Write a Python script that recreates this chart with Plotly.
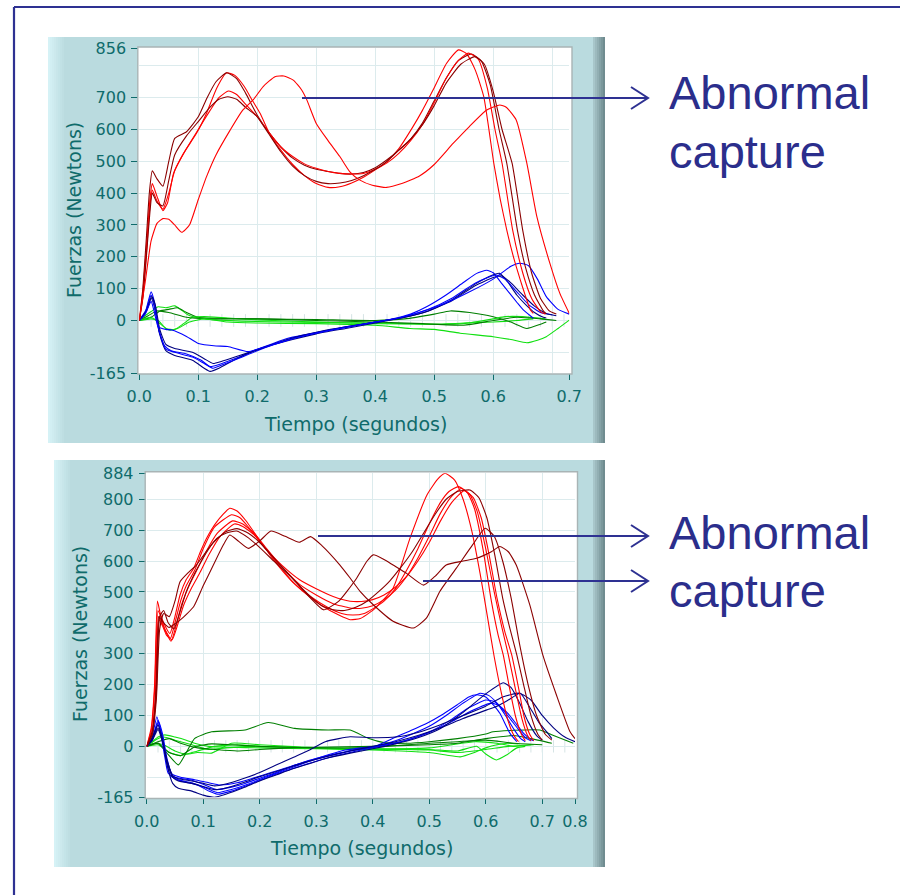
import plotly.graph_objects as go

# ---------------------------------------------------------------------------
# Upper recording: five trials, force components vs time
# (fz = vertical, fy = antero-posterior, fx = medio-lateral)
# ---------------------------------------------------------------------------
top1_fz_t = [0, 0.006, 0.012, 0.018, 0.022, 0.03, 0.04, 0.048, 0.058, 0.075, 0.097, 0.114, 0.131, 0.148, 0.162, 0.178, 0.192, 0.205, 0.22, 0.24, 0.26, 0.28, 0.30, 0.32, 0.34, 0.36, 0.38, 0.40, 0.42, 0.44, 0.464, 0.48, 0.498, 0.521, 0.541, 0.555, 0.57, 0.584, 0.601, 0.612, 0.623, 0.635, 0.646, 0.655, 0.663, 0.668]
top1_fz = [0, 90, 230, 380, 430, 390, 345, 370, 462, 525, 588, 651, 729, 778, 770, 735, 690, 650, 590, 535, 490, 455, 430, 418, 420, 432, 450, 473, 500, 540, 609, 660, 724, 808, 850, 838, 785, 703, 494, 380, 284, 195, 127, 75, 33, 22]
top1_fy_t = [0, 0.01, 0.02, 0.026, 0.033, 0.043, 0.054, 0.08, 0.105, 0.12, 0.14, 0.17, 0.196, 0.227, 0.252, 0.28, 0.308, 0.35, 0.388, 0.43, 0.46, 0.487, 0.52, 0.55, 0.572, 0.589, 0.6, 0.615, 0.628, 0.641, 0.651, 0.668]
top1_fy = [0, 25, 90, 55, -30, -80, -95, -105, -125, -145, -135, -114, -93, -72, -56, -45, -35, -20, -9, 5, 20, 43, 80, 120, 148, 158, 150, 115, 85, 55, 33, 7]
top1_fx_t = [0, 0.01, 0.02, 0.032, 0.045, 0.06, 0.072, 0.083, 0.1, 0.13, 0.2, 0.3, 0.4, 0.45, 0.5, 0.55, 0.6, 0.64, 0.668]
top1_fx = [0, 15, 28, 43, 40, 46, 32, 17, 8, 2, -3, -6, -8, -10, -12, -8, -5, 0, 5]

top2_fz_t = [0, 0.006, 0.012, 0.017, 0.022, 0.03, 0.04, 0.05, 0.06, 0.08, 0.1, 0.115, 0.13, 0.148, 0.165, 0.18, 0.2, 0.22, 0.24, 0.26, 0.28, 0.30, 0.32, 0.34, 0.36, 0.38, 0.40, 0.42, 0.44, 0.46, 0.48, 0.50, 0.52, 0.54, 0.563, 0.58, 0.595, 0.61, 0.623, 0.641, 0.655, 0.67, 0.685, 0.69]
top2_fz = [0, 100, 260, 400, 470, 445, 422, 500, 572, 593, 640, 700, 750, 778, 760, 715, 645, 590, 545, 510, 488, 475, 468, 462, 460, 465, 480, 505, 535, 570, 620, 690, 760, 815, 837, 815, 740, 600, 494, 284, 165, 80, 30, 20]
top2_fy_t = [0, 0.012, 0.02, 0.026, 0.034, 0.045, 0.06, 0.09, 0.11, 0.12, 0.135, 0.16, 0.19, 0.22, 0.26, 0.3, 0.35, 0.4, 0.45, 0.49, 0.53, 0.57, 0.595, 0.611, 0.625, 0.64, 0.655, 0.67, 0.685, 0.69]
top2_fy = [0, 30, 70, 40, -40, -95, -110, -125, -150, -160, -150, -125, -100, -80, -60, -42, -25, -8, 10, 30, 65, 115, 140, 148, 120, 80, 50, 25, 10, 8]
top2_fx_t = [0, 0.02, 0.035, 0.05, 0.065, 0.08, 0.1, 0.15, 0.2, 0.3, 0.4, 0.45, 0.5, 0.527, 0.56, 0.6, 0.63, 0.657, 0.68, 0.69]
top2_fx = [0, 10, 30, 35, 40, 25, 10, 6, 5, 3, 0, 5, 20, 30, 25, 12, -5, -25, -12, -5]

top3_fz_t = [0, 0.006, 0.012, 0.018, 0.022, 0.03, 0.04, 0.05, 0.06, 0.08, 0.1, 0.12, 0.135, 0.151, 0.165, 0.18, 0.2, 0.22, 0.24, 0.26, 0.28, 0.30, 0.32, 0.34, 0.36, 0.38, 0.40, 0.42, 0.44, 0.46, 0.48, 0.50, 0.52, 0.54, 0.558, 0.575, 0.59, 0.603, 0.615, 0.633, 0.65, 0.665, 0.68, 0.688]
top3_fz = [0, 80, 210, 360, 410, 375, 350, 400, 470, 540, 600, 660, 700, 721, 710, 680, 640, 590, 545, 515, 492, 478, 468, 462, 460, 462, 475, 495, 525, 565, 615, 685, 760, 815, 840, 820, 730, 600, 494, 284, 150, 70, 28, 20]
top3_fy_t = [0, 0.012, 0.02, 0.026, 0.034, 0.045, 0.06, 0.09, 0.11, 0.125, 0.14, 0.17, 0.2, 0.23, 0.27, 0.31, 0.35, 0.4, 0.45, 0.49, 0.53, 0.57, 0.605, 0.62, 0.64, 0.66, 0.68, 0.70]
top3_fy = [0, 35, 80, 45, -35, -90, -100, -115, -135, -150, -140, -118, -95, -75, -52, -35, -22, -5, 12, 35, 70, 118, 143, 130, 90, 50, 25, 18]
top3_fx_t = [0, 0.02, 0.032, 0.045, 0.06, 0.075, 0.09, 0.11, 0.15, 0.2, 0.3, 0.4, 0.5, 0.55, 0.6, 0.62, 0.65, 0.688]
top3_fx = [0, 5, 0, -25, -28, -10, 10, 12, 8, 2, -5, -10, -12, -10, 5, 12, 12, 5]

top4_fz_t = [0, 0.006, 0.012, 0.018, 0.022, 0.03, 0.04, 0.05, 0.06, 0.08, 0.1, 0.12, 0.135, 0.15, 0.165, 0.18, 0.2, 0.22, 0.24, 0.26, 0.28, 0.30, 0.32, 0.34, 0.36, 0.38, 0.40, 0.42, 0.44, 0.46, 0.48, 0.50, 0.52, 0.545, 0.569, 0.585, 0.6, 0.615, 0.632, 0.65, 0.665, 0.68, 0.695, 0.707]
top4_fz = [0, 70, 200, 340, 400, 370, 360, 440, 520, 580, 625, 670, 695, 703, 695, 670, 640, 585, 530, 485, 455, 437, 430, 432, 440, 455, 475, 500, 535, 570, 615, 675, 745, 805, 829, 805, 720, 600, 494, 284, 150, 70, 30, 20]
top4_fy_t = [0, 0.012, 0.021, 0.027, 0.035, 0.045, 0.06, 0.09, 0.11, 0.125, 0.14, 0.17, 0.2, 0.23, 0.27, 0.31, 0.35, 0.4, 0.45, 0.49, 0.53, 0.57, 0.6, 0.615, 0.63, 0.65, 0.67, 0.69, 0.707]
top4_fy = [0, 30, 75, 50, -30, -75, -88, -100, -120, -135, -128, -110, -92, -72, -50, -33, -20, -5, 10, 30, 62, 110, 135, 140, 118, 80, 45, 22, 15]
top4_fx_t = [0, 0.015, 0.03, 0.05, 0.08, 0.12, 0.2, 0.3, 0.4, 0.48, 0.55, 0.6, 0.64, 0.68, 0.707]
top4_fx = [0, 15, 30, 25, 10, 5, 5, 0, -5, -10, -15, 0, 10, 5, 0]

top5_fz_t = [0, 0.01, 0.02, 0.03, 0.04, 0.05, 0.06, 0.072, 0.085, 0.1, 0.114, 0.13, 0.154, 0.175, 0.193, 0.21, 0.23, 0.245, 0.261, 0.275, 0.284, 0.30, 0.32, 0.34, 0.357, 0.374, 0.395, 0.419, 0.445, 0.475, 0.50, 0.532, 0.56, 0.589, 0.611, 0.622, 0.639, 0.657, 0.674, 0.696, 0.713, 0.729]
top5_fz = [0, 120, 250, 305, 320, 318, 300, 277, 300, 380, 452, 520, 598, 660, 693, 735, 766, 768, 755, 725, 693, 619, 565, 515, 467, 441, 425, 418, 430, 454, 490, 556, 610, 661, 677, 670, 630, 494, 326, 180, 85, 22]
top5_fy_t = [0, 0.01, 0.02, 0.025, 0.032, 0.045, 0.055, 0.08, 0.1, 0.13, 0.15, 0.184, 0.21, 0.24, 0.28, 0.32, 0.36, 0.4, 0.44, 0.48, 0.52, 0.56, 0.6, 0.63, 0.645, 0.66, 0.675, 0.69, 0.71, 0.729]
top5_fy = [0, 20, 60, 30, -20, -28, -30, -50, -72, -80, -82, -98, -85, -68, -48, -32, -18, -5, 8, 28, 55, 90, 130, 170, 180, 172, 130, 75, 35, 20]
top5_fx_t = [0, 0.02, 0.035, 0.05, 0.065, 0.085, 0.11, 0.15, 0.2, 0.3, 0.4, 0.459, 0.5, 0.544, 0.6, 0.63, 0.657, 0.675, 0.69, 0.71, 0.729]
top5_fx = [0, 10, -10, -30, -25, -5, 5, -5, -8, -10, -15, -25, -28, -40, -51, -60, -70, -62, -51, -25, 1]

# ---------------------------------------------------------------------------
# Lower recording: seven trials
# ---------------------------------------------------------------------------
bot1_fz_t = [0, 0.008, 0.014, 0.019, 0.024, 0.03, 0.041, 0.05, 0.059, 0.07, 0.083, 0.095, 0.106, 0.124, 0.147, 0.16, 0.175, 0.195, 0.224, 0.254, 0.283, 0.31, 0.34, 0.36, 0.378, 0.40, 0.436, 0.466, 0.496, 0.515, 0.528, 0.545, 0.56, 0.575, 0.59, 0.603, 0.615, 0.628, 0.64, 0.65, 0.658]
bot1_fz = [0, 60, 200, 470, 430, 400, 365, 420, 490, 540, 576, 630, 674, 727, 771, 762, 732, 680, 605, 540, 492, 455, 425, 410, 414, 440, 512, 674, 814, 865, 884, 862, 800, 700, 560, 420, 290, 170, 80, 35, 15]
bot1_fy_t = [0, 0.008, 0.018, 0.025, 0.032, 0.038, 0.05, 0.08, 0.103, 0.124, 0.15, 0.174, 0.2, 0.233, 0.26, 0.292, 0.32, 0.351, 0.38, 0.404, 0.436, 0.466, 0.496, 0.525, 0.55, 0.57, 0.584, 0.6, 0.613, 0.625, 0.643, 0.655]
bot1_fy = [0, 20, 96, 40, -34, -87, -100, -110, -125, -140, -132, -120, -103, -82, -62, -44, -28, -12, -5, 0, 26, 50, 75, 105, 135, 160, 167, 160, 135, 107, 42, 15]
bot1_fx_t = [0, 0.01, 0.02, 0.032, 0.05, 0.07, 0.085, 0.11, 0.15, 0.2, 0.3, 0.4, 0.45, 0.5, 0.53, 0.555, 0.58, 0.6, 0.62, 0.64, 0.658]
bot1_fx = [0, 15, 30, 37, 30, 20, 10, 0, -3, -5, -8, -12, -15, -20, -28, -34, -20, -5, 5, 10, 8]

bot2_fz_t = [0, 0.008, 0.014, 0.02, 0.025, 0.032, 0.042, 0.05, 0.06, 0.07, 0.085, 0.1, 0.12, 0.15, 0.165, 0.18, 0.2, 0.23, 0.26, 0.29, 0.32, 0.345, 0.365, 0.385, 0.40, 0.42, 0.44, 0.46, 0.48, 0.50, 0.52, 0.535, 0.552, 0.568, 0.58, 0.595, 0.61, 0.622, 0.631, 0.642, 0.653, 0.663, 0.67]
bot2_fz = [0, 50, 180, 440, 420, 380, 350, 400, 470, 520, 570, 640, 710, 750, 740, 710, 665, 595, 530, 485, 450, 430, 425, 430, 445, 470, 510, 570, 640, 720, 790, 825, 841, 820, 770, 640, 470, 360, 296, 190, 95, 40, 18]
bot2_fy_t = [0, 0.01, 0.02, 0.027, 0.034, 0.042, 0.055, 0.08, 0.105, 0.125, 0.15, 0.18, 0.21, 0.24, 0.27, 0.3, 0.33, 0.36, 0.4, 0.44, 0.47, 0.5, 0.53, 0.56, 0.59, 0.605, 0.62, 0.635, 0.65, 0.662, 0.67]
bot2_fy = [0, 25, 85, 35, -40, -95, -108, -118, -135, -150, -140, -122, -100, -80, -60, -42, -28, -15, -3, 18, 40, 65, 100, 140, 172, 165, 140, 100, 55, 25, 15]
bot2_fx_t = [0, 0.015, 0.03, 0.05, 0.07, 0.09, 0.115, 0.15, 0.2, 0.25, 0.3, 0.4, 0.5, 0.55, 0.584, 0.6, 0.619, 0.637, 0.655, 0.67]
bot2_fx = [0, 10, 5, -15, -25, -20, -22, 10, 5, 0, -5, -8, -10, -15, 0, -25, -44, -28, -5, 0]

bot3_fz_t = [0, 0.009, 0.015, 0.021, 0.027, 0.034, 0.043, 0.052, 0.062, 0.075, 0.09, 0.105, 0.125, 0.152, 0.17, 0.19, 0.21, 0.24, 0.27, 0.3, 0.33, 0.36, 0.38, 0.40, 0.42, 0.44, 0.46, 0.48, 0.50, 0.52, 0.54, 0.557, 0.572, 0.585, 0.6, 0.615, 0.628, 0.64, 0.652, 0.664, 0.674, 0.68]
bot3_fz = [0, 40, 150, 420, 400, 370, 340, 390, 460, 520, 575, 630, 690, 730, 720, 690, 645, 580, 525, 490, 462, 448, 447, 455, 475, 505, 550, 610, 680, 755, 810, 835, 815, 760, 640, 500, 390, 296, 190, 90, 35, 18]
bot3_fy_t = [0, 0.01, 0.02, 0.028, 0.035, 0.045, 0.06, 0.085, 0.11, 0.13, 0.16, 0.19, 0.22, 0.25, 0.28, 0.31, 0.34, 0.37, 0.41, 0.45, 0.48, 0.51, 0.54, 0.57, 0.6, 0.615, 0.63, 0.645, 0.66, 0.672, 0.68]
bot3_fy = [0, 20, 70, 30, -45, -90, -100, -108, -118, -125, -118, -102, -85, -68, -50, -35, -22, -10, 2, 15, 32, 55, 88, 125, 150, 145, 120, 85, 50, 25, 18]
bot3_fx_t = [0, 0.015, 0.03, 0.05, 0.08, 0.11, 0.14, 0.18, 0.25, 0.3, 0.4, 0.5, 0.54, 0.58, 0.62, 0.65, 0.68]
bot3_fx = [0, 20, 30, 20, 5, -10, -5, 0, -3, -6, -10, -5, 5, 15, 10, 0, 5]

bot4_fz_t = [0, 0.009, 0.016, 0.022, 0.028, 0.035, 0.045, 0.055, 0.065, 0.08, 0.095, 0.11, 0.13, 0.155, 0.17, 0.19, 0.21, 0.24, 0.27, 0.3, 0.33, 0.36, 0.38, 0.40, 0.42, 0.44, 0.46, 0.48, 0.50, 0.52, 0.54, 0.562, 0.578, 0.592, 0.606, 0.62, 0.634, 0.646, 0.658, 0.668, 0.678, 0.685]
bot4_fz = [0, 40, 160, 410, 390, 360, 345, 395, 455, 515, 565, 620, 680, 720, 712, 685, 640, 585, 540, 510, 485, 470, 469, 475, 490, 515, 550, 600, 660, 730, 790, 828, 805, 740, 620, 480, 370, 296, 190, 95, 38, 18]
bot4_fy_t = [0, 0.01, 0.021, 0.028, 0.036, 0.046, 0.06, 0.09, 0.11, 0.125, 0.15, 0.18, 0.21, 0.24, 0.27, 0.3, 0.34, 0.38, 0.42, 0.46, 0.5, 0.54, 0.575, 0.61, 0.625, 0.64, 0.655, 0.668, 0.68, 0.685]
bot4_fy = [0, 25, 80, 40, -40, -100, -112, -125, -145, -155, -145, -125, -103, -83, -65, -48, -28, -12, 3, 20, 45, 80, 115, 140, 130, 105, 70, 40, 22, 18]
bot4_fx_t = [0, 0.02, 0.04, 0.06, 0.09, 0.12, 0.16, 0.2, 0.3, 0.4, 0.5, 0.55, 0.6, 0.64, 0.685]
bot4_fx = [0, 5, -20, -30, -15, 0, 5, 0, -5, -8, -12, -20, -10, 0, 5]

bot5_fz_t = [0, 0.01, 0.017, 0.023, 0.03, 0.038, 0.048, 0.058, 0.07, 0.085, 0.1, 0.118, 0.14, 0.16, 0.18, 0.2, 0.23, 0.26, 0.29, 0.31, 0.33, 0.35, 0.37, 0.39, 0.41, 0.43, 0.45, 0.47, 0.49, 0.51, 0.53, 0.55, 0.572, 0.588, 0.602, 0.616, 0.63, 0.643, 0.655, 0.667, 0.68, 0.692, 0.70]
bot5_fz = [0, 50, 170, 420, 440, 400, 380, 430, 500, 560, 610, 660, 695, 705, 690, 660, 600, 540, 485, 455, 442, 440, 450, 470, 500, 535, 580, 630, 690, 750, 800, 825, 830, 805, 740, 620, 480, 380, 296, 200, 100, 40, 20]
bot5_fy_t = [0, 0.01, 0.02, 0.028, 0.036, 0.046, 0.056, 0.08, 0.1, 0.12, 0.14, 0.17, 0.2, 0.23, 0.26, 0.29, 0.32, 0.36, 0.4, 0.44, 0.48, 0.52, 0.56, 0.6, 0.631, 0.645, 0.66, 0.675, 0.69, 0.70]
bot5_fy = [0, 30, 70, 20, -60, -120, -136, -145, -158, -165, -155, -135, -112, -92, -72, -55, -38, -22, -8, 8, 28, 58, 110, 170, 206, 190, 140, 80, 35, 20]
bot5_fx_t = [0, 0.02, 0.04, 0.06, 0.085, 0.115, 0.15, 0.2, 0.3, 0.4, 0.5, 0.55, 0.6, 0.65, 0.7]
bot5_fx = [0, 10, -20, -30, -1, 8, 5, 0, -5, -3, 10, 15, 20, 10, 5]

bot6_fz_t = [0, 0.01, 0.017, 0.022, 0.03, 0.04, 0.047, 0.06, 0.083, 0.1, 0.118, 0.135, 0.147, 0.162, 0.18, 0.2, 0.22, 0.245, 0.27, 0.29, 0.31, 0.342, 0.36, 0.378, 0.40, 0.436, 0.472, 0.495, 0.519, 0.548, 0.577, 0.599, 0.615, 0.63, 0.645, 0.66, 0.675, 0.69, 0.705, 0.717]
bot6_fz = [0, 40, 200, 420, 400, 385, 393, 410, 452, 520, 587, 650, 684, 665, 641, 665, 697, 680, 661, 679, 650, 587, 545, 501, 460, 405, 383, 415, 502, 577, 653, 706, 680, 600, 480, 330, 200, 100, 40, 20]
bot6_fy_t = [0, 0.01, 0.02, 0.028, 0.036, 0.046, 0.056, 0.08, 0.1, 0.12, 0.14, 0.17, 0.2, 0.24, 0.28, 0.32, 0.36, 0.4, 0.44, 0.48, 0.52, 0.56, 0.602, 0.62, 0.64, 0.661, 0.68, 0.695, 0.708, 0.717]
bot6_fy = [0, 25, 60, 20, -50, -100, -112, -120, -130, -140, -135, -118, -98, -75, -52, -32, -15, 0, 15, 35, 60, 90, 118, 130, 150, 172, 120, 75, 47, 25]
bot6_fx_t = [0, 0.02, 0.04, 0.06, 0.09, 0.12, 0.16, 0.2, 0.25, 0.3, 0.4, 0.5, 0.55, 0.6, 0.65, 0.68, 0.717]
bot6_fx = [0, 15, 25, 10, -5, -10, -15, -10, -5, -3, 0, 5, 10, 25, 35, 25, 10]

bot7_fz_t = [0, 0.01, 0.017, 0.023, 0.03, 0.04, 0.05, 0.059, 0.075, 0.088, 0.105, 0.124, 0.14, 0.159, 0.18, 0.195, 0.225, 0.26, 0.29, 0.313, 0.34, 0.37, 0.39, 0.401, 0.42, 0.436, 0.46, 0.49, 0.51, 0.53, 0.56, 0.584, 0.61, 0.625, 0.64, 0.654, 0.678, 0.701, 0.725, 0.749, 0.758]
bot7_fz = [0, 40, 150, 380, 430, 420, 470, 533, 565, 587, 630, 673, 690, 697, 675, 652, 600, 540, 480, 442, 470, 540, 600, 620, 605, 587, 560, 522, 550, 587, 600, 609, 630, 647, 630, 587, 458, 296, 167, 48, 25]
bot7_fy_t = [0, 0.01, 0.02, 0.028, 0.036, 0.046, 0.056, 0.08, 0.1, 0.12, 0.14, 0.17, 0.2, 0.23, 0.26, 0.29, 0.316, 0.34, 0.36, 0.4, 0.44, 0.48, 0.52, 0.56, 0.6, 0.63, 0.66, 0.68, 0.70, 0.72, 0.74, 0.758]
bot7_fy = [0, 20, 55, 15, -45, -95, -105, -112, -120, -128, -122, -105, -85, -60, -35, -10, 15, 25, 31, 28, 30, 45, 70, 100, 130, 160, 172, 150, 100, 60, 30, 15]
bot7_fx_t = [0, 0.02, 0.035, 0.056, 0.07, 0.085, 0.115, 0.174, 0.215, 0.262, 0.321, 0.36, 0.392, 0.42, 0.46, 0.5, 0.55, 0.6, 0.613, 0.65, 0.696, 0.72, 0.755]
bot7_fx = [0, 10, -20, -60, -20, 26, 47, 53, 77, 58, 53, 53, 26, 12, 10, 15, 25, 40, 47, 52, 53, 35, 10]

# Axis scales and tick labels (the last tick marks the end of each time axis)
top_x_range = [0, 0.729]
top_y_range = [-165, 856]
top_x_ticks = [0, 0.1, 0.2, 0.3, 0.4, 0.5, 0.6, 0.729]
top_x_labels = ["0.0", "0.1", "0.2", "0.3", "0.4", "0.5", "0.6", "0.7"]
top_y_ticks = [-165, 0, 100, 200, 300, 400, 500, 600, 700, 856]
top_x_grid = [0.1, 0.2, 0.3, 0.4, 0.5, 0.6, 0.7]

bot_x_range = [0, 0.758]
bot_y_range = [-165, 884]
bot_x_ticks = [0, 0.1, 0.2, 0.3, 0.4, 0.5, 0.6, 0.7, 0.758]
bot_x_labels = ["0.0", "0.1", "0.2", "0.3", "0.4", "0.5", "0.6", "0.7", "0.8"]
bot_y_ticks = [-165, 0, 100, 200, 300, 400, 500, 600, 700, 800, 884]
bot_x_grid = [0.1, 0.2, 0.3, 0.4, 0.5, 0.6, 0.7]

y_grid = [-100, 0, 100, 200, 300, 400, 500, 600, 700, 800]

note_lines = ["Abnormal", "capture"]

# ---------------------------------------------------------------------------
W, H = 900, 895
TEAL_TXT = "#0f6b6b"
SLIDE_BLUE = "#2E3192"
PANEL = "#badbdf"

BRIGHT = ("#ff0000", "#0000ff", "#10e010")
DARK = ("#8b0000", "#000080", "#007f00")


def px(X):
    return X / W


def py(Y):
    return 1 - Y / H


top_trials = [
    (top1_fz_t, top1_fz, top1_fy_t, top1_fy, top1_fx_t, top1_fx, BRIGHT),
    (top2_fz_t, top2_fz, top2_fy_t, top2_fy, top2_fx_t, top2_fx, DARK),
    (top3_fz_t, top3_fz, top3_fy_t, top3_fy, top3_fx_t, top3_fx, BRIGHT),
    (top4_fz_t, top4_fz, top4_fy_t, top4_fy, top4_fx_t, top4_fx, DARK),
    (top5_fz_t, top5_fz, top5_fy_t, top5_fy, top5_fx_t, top5_fx, BRIGHT),
]
bot_trials = [
    (bot1_fz_t, bot1_fz, bot1_fy_t, bot1_fy, bot1_fx_t, bot1_fx, BRIGHT),
    (bot2_fz_t, bot2_fz, bot2_fy_t, bot2_fy, bot2_fx_t, bot2_fx, BRIGHT),
    (bot3_fz_t, bot3_fz, bot3_fy_t, bot3_fy, bot3_fx_t, bot3_fx, BRIGHT),
    (bot4_fz_t, bot4_fz, bot4_fy_t, bot4_fy, bot4_fx_t, bot4_fx, BRIGHT),
    (bot5_fz_t, bot5_fz, bot5_fy_t, bot5_fy, bot5_fx_t, bot5_fx, DARK),
    (bot6_fz_t, bot6_fz, bot6_fy_t, bot6_fy, bot6_fx_t, bot6_fx, DARK),
    (bot7_fz_t, bot7_fz, bot7_fy_t, bot7_fy, bot7_fx_t, bot7_fx, DARK),
]

fig = go.Figure()


def add_trials(trials, xa, ya):
    # medio-lateral first, then antero-posterior, vertical force on top
    for order in (2, 1, 0):
        for tr in trials:
            t, v = tr[2 * order], tr[2 * order + 1]
            fig.add_trace(go.Scatter(
                x=t, y=v, mode="lines", xaxis=xa, yaxis=ya,
                line=dict(color=tr[6][order], width=1.1, shape="spline", smoothing=0.5),
                showlegend=False, hoverinfo="skip"))


add_trials(top_trials, "x", "y")
add_trials(bot_trials, "x2", "y2")

tick_font = dict(family="DejaVu Sans", size=16, color=TEAL_TXT)


def x_axis(domain, rng, ticks, labels, grid, anchor):
    return dict(domain=domain, range=rng, anchor=anchor, tickmode="array",
                tickvals=ticks, ticktext=labels, ticks="outside", ticklen=6,
                tickwidth=1.3, tickcolor=TEAL_TXT, tickfont=tick_font,
                showgrid=False, zeroline=False, showline=False, automargin=False,
                ticklabelstandoff=3, fixedrange=True,
                minor=dict(tickmode="array", tickvals=grid, showgrid=True,
                           gridcolor="#dcebed", gridwidth=1.4, ticks=""))


def y_axis(domain, rng, ticks, anchor):
    return dict(domain=domain, range=rng, anchor=anchor, tickmode="array",
                tickvals=ticks, ticktext=[str(v) for v in ticks], ticks="outside",
                ticklen=7, tickwidth=1.3, tickcolor=TEAL_TXT, tickfont=tick_font,
                showgrid=False, zeroline=False, showline=False, automargin=False,
                ticklabelstandoff=2, fixedrange=True,
                minor=dict(tickmode="array", tickvals=y_grid, showgrid=True,
                           gridcolor="#dcebed", gridwidth=1.4, ticks=""))


TOP_PLOT = (139.3, 48, 569.3, 373)      # left, top, right, bottom in px
BOT_PLOT = (146.7, 473.3, 575.0, 797.3)

fig.update_layout(
    width=W, height=H, margin=dict(l=0, r=0, t=0, b=0),
    paper_bgcolor="white", plot_bgcolor="rgba(0,0,0,0)", showlegend=False,
    xaxis=x_axis([px(TOP_PLOT[0]), px(TOP_PLOT[2])], top_x_range, top_x_ticks,
                 top_x_labels, top_x_grid, "y"),
    yaxis=y_axis([py(TOP_PLOT[3]), py(TOP_PLOT[1])], top_y_range, top_y_ticks, "x"),
    xaxis2=x_axis([px(BOT_PLOT[0]), px(BOT_PLOT[2])], bot_x_range, bot_x_ticks,
                  bot_x_labels, bot_x_grid, "y2"),
    yaxis2=y_axis([py(BOT_PLOT[3]), py(BOT_PLOT[1])], bot_y_range, bot_y_ticks, "x2"),
)

shapes = []


def rect(X0, Y0, X1, Y1, fill=None, line=None, lw=0, layer="below"):
    shapes.append(dict(type="rect", xref="paper", yref="paper",
                       x0=px(X0), x1=px(X1), y0=py(Y1), y1=py(Y0),
                       fillcolor=fill if fill else "rgba(0,0,0,0)",
                       line=dict(color=line if line else "rgba(0,0,0,0)", width=lw),
                       layer=layer))


def mix(c1, c2, f):
    return "rgb(%d,%d,%d)" % tuple(round(a + (b - a) * f) for a, b in zip(c1, c2))


def panel(X0, Y0, X1, Y1, frame):
    rect(X0, Y0, X1, Y1, fill=PANEL)
    # soft light band on the left edge
    light, base = (214, 242, 246), (186, 219, 223)
    n = 8
    for i in range(n):
        rect(X0 + i * 2, Y0, X0 + (i + 1) * 2, Y1, fill=mix(light, base, i / n))
    # shaded bevel on the right edge
    mid, deep = (168, 198, 202), (112, 140, 144)
    n = 6
    for i in range(n):
        rect(X1 - (n - i) * 2, Y0, X1 - (n - i - 1) * 2, Y1, fill=mix(mid, deep, i / (n - 1)))
    # white plotting surface
    fx0, fy0, fx1, fy1 = frame
    rect(fx0, fy0, fx1, fy1, fill="white")


panel(48, 37, 605, 443, (137.8, 47, 572, 374))
panel(54, 460, 605, 867, (145.2, 471.8, 577.5, 798.5))

# faint minor ticks along the zero line
for xa, ya, xmax in (("x", "y", top_x_range[1]), ("x2", "y2", bot_x_range[1])):
    k = 1
    while 0.02 * k < xmax - 0.005:
        shapes.append(dict(type="line", xref=xa, yref=ya, x0=0.02 * k, x1=0.02 * k,
                           y0=-20, y1=20, line=dict(color="#d6e4e5", width=1),
                           layer="below"))
        k += 1

# plot frames
for fx0, fy0, fx1, fy1 in ((137.8, 47, 572, 374), (145.2, 471.8, 577.5, 798.5)):
    rect(fx0, fy0, fx1, fy1, line="#a9b4b5", lw=1.4, layer="above")

# slide border (top and left rules)
shapes.append(dict(type="line", xref="paper", yref="paper", x0=px(14), x1=px(900),
                   y0=py(7), y1=py(7), line=dict(color=SLIDE_BLUE, width=2.2), layer="above"))
shapes.append(dict(type="line", xref="paper", yref="paper", x0=px(14), x1=px(14),
                   y0=py(7), y1=py(895), line=dict(color=SLIDE_BLUE, width=2.2), layer="above"))


def arrow(X0, X1, Y):
    path = "M %f,%f L %f,%f" % (px(X0), py(Y), px(X1), py(Y))
    head = "M %f,%f L %f,%f L %f,%f" % (px(X1 - 17), py(Y - 11), px(X1), py(Y),
                                        px(X1 - 17), py(Y + 11))
    for p in (path, head):
        shapes.append(dict(type="path", xref="paper", yref="paper", path=p,
                           line=dict(color=SLIDE_BLUE, width=2), layer="above"))


arrow(302, 648, 98)
arrow(318, 648, 536)
arrow(423, 648, 581)

fig.update_layout(shapes=shapes)

annotations = []
title_font = dict(family="DejaVu Sans", size=19, color=TEAL_TXT)
for cx, cy in ((355, 424), (361, 848)):
    annotations.append(dict(xref="paper", yref="paper", x=px(cx), y=py(cy),
                            text="Tiempo (segundos)", showarrow=False,
                            font=title_font, xanchor="center", yanchor="middle"))
for cx, cy in ((73.5, 210.5), (80, 634)):
    annotations.append(dict(xref="paper", yref="paper", x=px(cx), y=py(cy),
                            text="Fuerzas (Newtons)", showarrow=False, textangle=-90,
                            font=title_font, xanchor="center", yanchor="middle"))

note_font = dict(family="Liberation Sans", size=47, color="#2B2E8C")
for cy, txt in ((93, note_lines[0]), (151, note_lines[1]),
                (532, note_lines[0]), (590, note_lines[1])):
    annotations.append(dict(xref="paper", yref="paper", x=px(667), y=py(cy),
                            text=txt, showarrow=False, font=note_font,
                            xanchor="left", yanchor="middle"))

fig.update_layout(annotations=annotations)

fig.write_html("out.html")
